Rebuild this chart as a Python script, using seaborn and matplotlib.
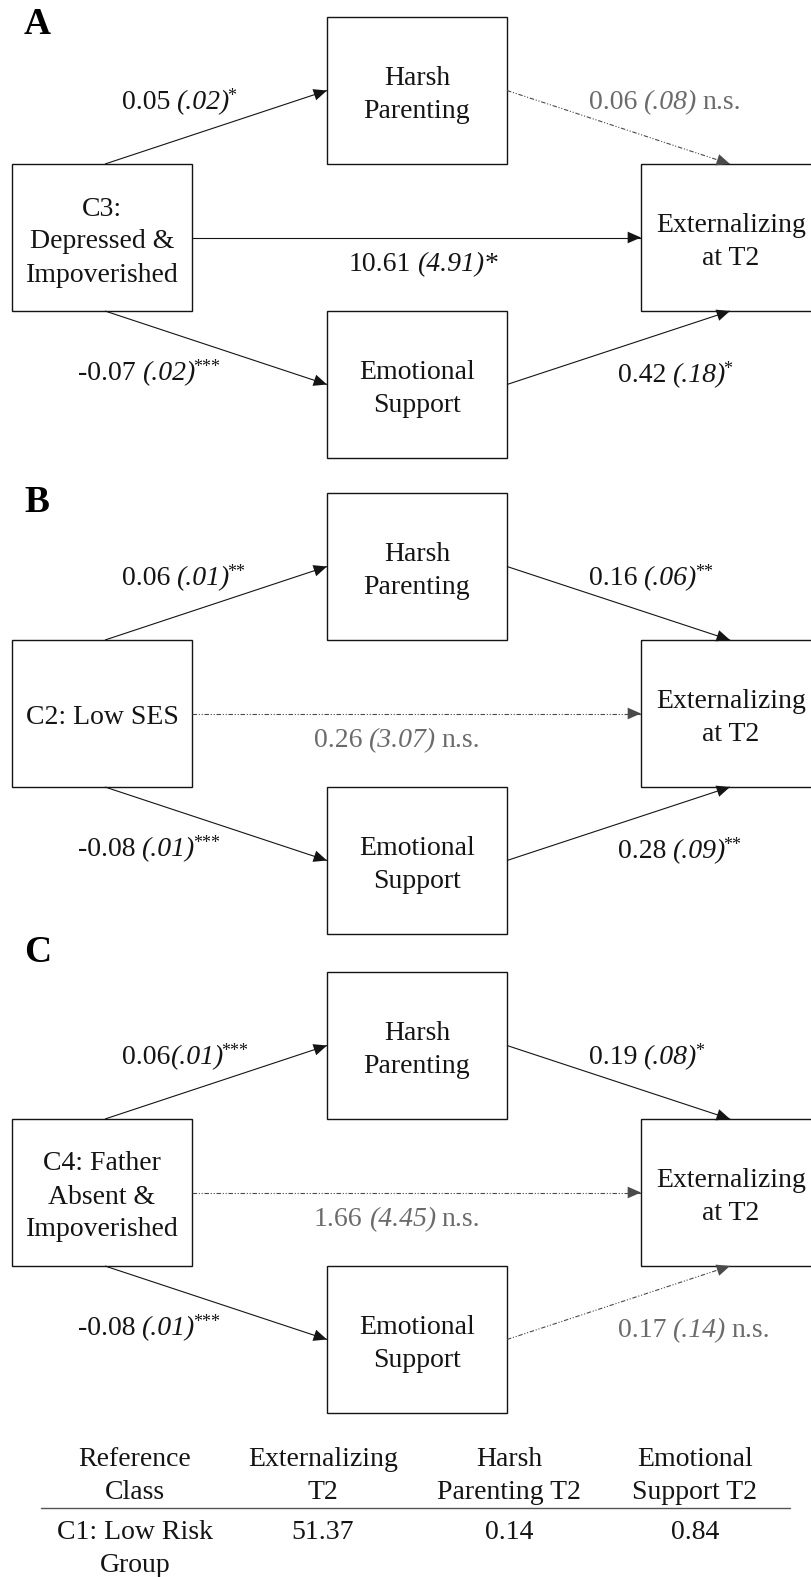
import matplotlib
matplotlib.use("Agg")
import matplotlib.pyplot as plt
from matplotlib.patches import Rectangle
import seaborn as sns

sns.set_theme(style="white")
plt.rcParams["font.family"] = ["Liberation Serif", "DejaVu Serif"]

# ---- model results -------------------------------------------------------
panel_letters = ["A", "B", "C"]
predictor_labels = [
    ["C3:", "Depressed &", "Impoverished"],
    ["C2: Low SES"],
    ["C4: Father", "Absent &", "Impoverished"],
]
harsh_label = ["Harsh", "Parenting"]
emot_label = ["Emotional", "Support"]
ext_label = ["Externalizing", "at T2"]

# predictor -> harsh parenting
a1_b = [0.05, 0.06, 0.06]
a1_se = [0.02, 0.01, 0.01]
a1_sig = ["*", "**", "***"]
# harsh parenting -> externalizing
b1_b = [0.06, 0.16, 0.19]
b1_se = [0.08, 0.06, 0.08]
b1_sig = ["n.s.", "**", "*"]
# predictor -> externalizing (direct)
c_b = [10.61, 0.26, 1.66]
c_se = [4.91, 3.07, 4.45]
c_sig = ["*", "n.s.", "n.s."]
# predictor -> emotional support
a2_b = [-0.07, -0.08, -0.08]
a2_se = [0.02, 0.01, 0.01]
a2_sig = ["***", "***", "***"]
# emotional support -> externalizing
b2_b = [0.42, 0.28, 0.17]
b2_se = [0.18, 0.09, 0.14]
b2_sig = ["*", "**", "n.s."]

# reference class table
table_header = [["Reference", "Class"], ["Externalizing", "T2"],
                ["Harsh", "Parenting T2"], ["Emotional", "Support T2"]]
table_row = [["C1: Low Risk", "Group"], ["51.37"], ["0.14"], ["0.84"]]

# ---- layout (pixel units, y grows downward) ------------------------------
W, H = 811, 1577
panel_top = [17, 493, 972]
letter_base = [34, 512, 962]
box_w, box_h = 180, 147
x_pred, x_mid, x_ext = 12, 327, 641
a1_gap = [6, 6, 0]
direct_x = [349, 314, 314]
super_direct = [False, True, True]

BLACK = "#141414"
GRAY_TXT = "#6b6b6b"
GRAY_LINE = "#4a4a4a"
FS = 20
SUP_FS = 13
LINE = 33
SPACE = 6

fig = plt.figure(figsize=(W / 100, H / 100), dpi=100)
ax = fig.add_axes([0, 0, 1, 1])
ax.set_xlim(0, W)
ax.set_ylim(H, 0)
ax.axis("off")
renderer = fig.canvas.get_renderer()


def fmt_se(v):
    s = f"{v:.2f}"
    return s[1:] if s.startswith("0") else s


def coef_parts(b, se, sig, gap=SPACE, sup=True):
    """Pieces of a path label: (text, style, size, raise, gap_before)."""
    parts = [(f"{b:.2f}", "normal", FS, 0, 0),
             (f"({fmt_se(se)})", "italic", FS, 0, gap)]
    if sig == "n.s.":
        parts.append(("n.s.", "normal", FS, 0, SPACE))
        return parts, GRAY_TXT
    if sup:
        parts.append((sig, "normal", SUP_FS, -8, -2))
    else:
        parts.append((sig, "normal", FS, 0, 0))
    return parts, BLACK


def label(x, y, parts_color):
    parts, color = parts_color
    for s, style, size, dy, gap in parts:
        x += gap
        t = ax.text(x, y + 9 + dy, s, ha="left", va="baseline",
                    fontsize=size, style=style, color=color)
        x += t.get_window_extent(renderer).width


def block_text(xc, yc, lines):
    n = len(lines)
    for i, s in enumerate(lines):
        y = yc + 2 + (i - (n - 1) / 2) * LINE + 9
        ax.text(xc, y, s, ha="center", va="baseline", fontsize=FS,
                color=BLACK)


def box(x, y, lines):
    ax.add_patch(Rectangle((x, y), box_w, box_h, fill=False, ec=BLACK,
                           lw=1.0))
    block_text(x + box_w / 2, y + box_h / 2, lines)


def arrow(p0, p1, sig):
    dashed = sig == "n.s."
    col = GRAY_LINE if dashed else BLACK
    ls = (0, (4, 1.6, 1, 1.6, 1, 1.6)) if dashed else "-"
    ax.plot([p0[0], p1[0]], [p0[1], p1[1]], color=col, lw=0.8, ls=ls,
            solid_capstyle="butt")
    ax.annotate("", xy=p1, xytext=p0,
                arrowprops=dict(arrowstyle="-|>,head_length=0.8,head_width=0.35",
                                color=col, lw=0, shrinkA=0, shrinkB=0,
                                mutation_scale=12))


for k, T in enumerate(panel_top):
    ax.text(24, letter_base[k], panel_letters[k], fontsize=27,
            fontweight="bold", ha="left", va="baseline", color="black")

    y_h, y_p, y_e = T, T + box_h, T + 2 * box_h
    box(x_mid, y_h, harsh_label)
    box(x_pred, y_p, predictor_labels[k])
    box(x_ext, y_p, ext_label)
    box(x_mid, y_e, emot_label)

    pred_cx = x_pred + box_w / 2 + 3
    ext_cx = x_ext + box_w / 2 - 1
    arrow((pred_cx, y_p), (x_mid, y_h + box_h / 2), a1_sig[k])
    arrow((x_mid + box_w, y_h + box_h / 2), (ext_cx, y_p), b1_sig[k])
    arrow((x_pred + box_w, y_p + box_h / 2), (x_ext, y_p + box_h / 2), c_sig[k])
    arrow((pred_cx, y_p + box_h), (x_mid, y_e + box_h / 2), a2_sig[k])
    arrow((x_mid + box_w, y_e + box_h / 2), (ext_cx, y_p + box_h), b2_sig[k])

    label(122, T + 83, coef_parts(a1_b[k], a1_se[k], a1_sig[k], a1_gap[k]))
    label(589, T + 83, coef_parts(b1_b[k], b1_se[k], b1_sig[k]))
    label(direct_x[k], T + 245,
          coef_parts(c_b[k], c_se[k], c_sig[k], sup=super_direct[k]))
    label(78, T + 354, coef_parts(a2_b[k], a2_se[k], a2_sig[k]))
    label(618, T + 356, coef_parts(b2_b[k], b2_se[k], b2_sig[k]))

# ---- reference class table -----------------------------------------------
col_x = [135, 323, 509, 695]
for cx, hdr in zip(col_x, table_header):
    for i, s in enumerate(hdr):
        ax.text(cx, 1466 + i * LINE, s, ha="center", va="baseline",
                fontsize=FS, color=BLACK)
ax.plot([41, 790], [1508, 1508], color="#555555", lw=1.0)
for cx, cell in zip(col_x, table_row):
    for i, s in enumerate(cell):
        ax.text(cx, 1539 + i * LINE, s, ha="center", va="baseline",
                fontsize=FS, color=BLACK)

fig.savefig("out.png", dpi=100, facecolor="white")
